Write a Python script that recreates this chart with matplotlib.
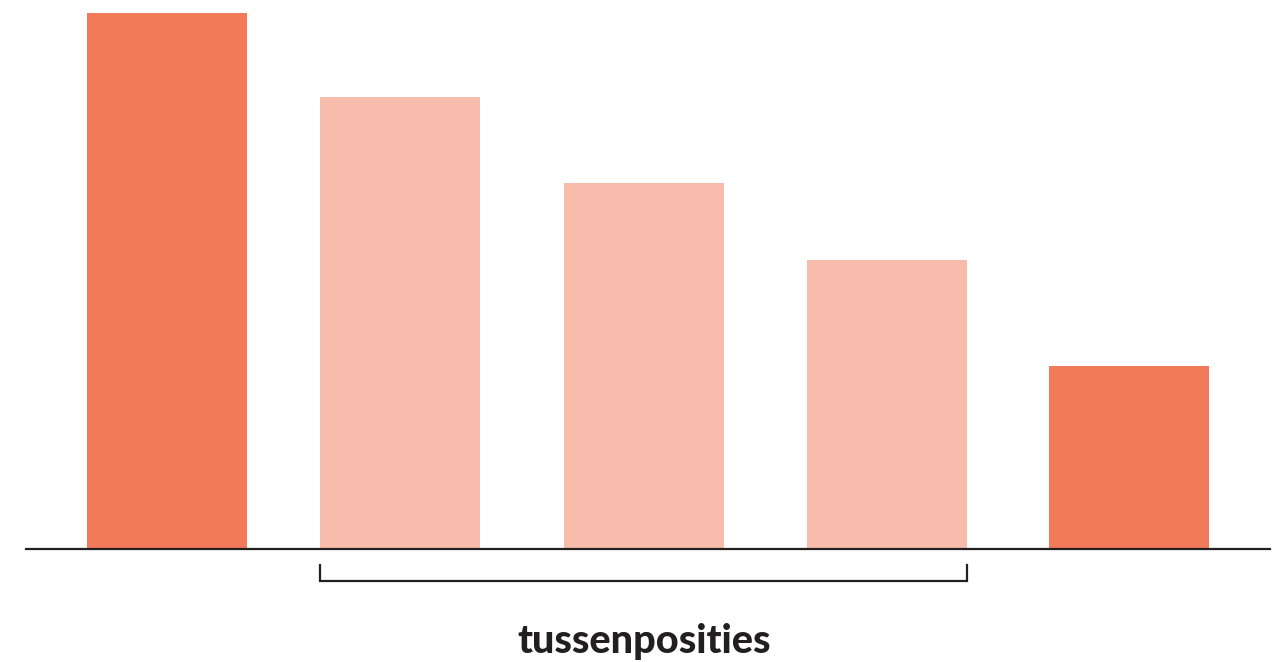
import matplotlib.pyplot as plt

categories = ['1', '2', '3', '4', '5']
values = [100, 84.3, 68.3, 53.9, 34.1]
highlight = [True, False, False, False, True]
label = 'tussenposities'

dark = '#F2795A'
light = '#F8BCAD'
ink = '#231F20'

fig = plt.figure(figsize=(12.8, 6.62), dpi=100)
ax = fig.add_axes([26 / 1280, 113 / 662, 1244 / 1280, 536 / 662])

# bar centres as in the reference layout (slightly uneven spacing)
x = [0, 0.969, 1.983, 2.993, 4]
colors = [dark if h else light for h in highlight]
ax.bar(x, values, width=0.665, color=colors, zorder=1)

ax.set_xlim(-0.586, 4.586)
ax.set_ylim(0, max(values))

for side in ['top', 'left', 'right']:
    ax.spines[side].set_visible(False)
ax.spines['bottom'].set_color(ink)
ax.spines['bottom'].set_linewidth(1.6)
ax.spines['bottom'].set_zorder(3)
ax.set_xticks([])
ax.set_yticks([])

# bracket under the middle bars
x0 = x[1] - 0.333
x1 = x[3] + 0.333
ax.plot([x0, x0, x1, x1], [-3.0, -6.0, -6.0, -3.0], color=ink, lw=1.6,
        clip_on=False, solid_joinstyle='miter')
ax.text(x[2], -17.2, label, ha='center', va='center', fontsize=28.5,
        fontweight='black', family=['Lato', 'DejaVu Sans'], color=ink,
        clip_on=False)

fig.savefig('out.png', dpi=100)
